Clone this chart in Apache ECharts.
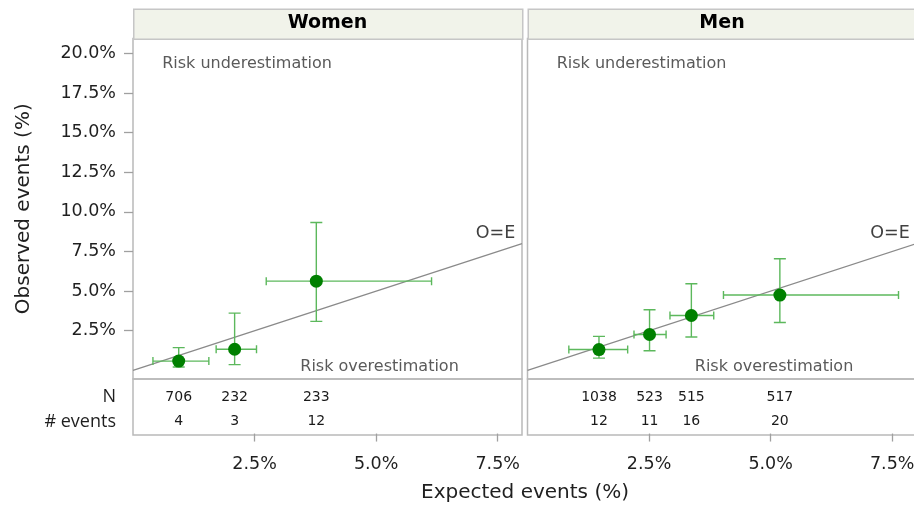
<!DOCTYPE html>
<html>
<head>
<meta charset="utf-8">
<script src="https://cdn.jsdelivr.net/npm/echarts@6/dist/echarts.min.js"></script>
<style>
  html, body { margin: 0; padding: 0; background: #ffffff; }
  #chart { width: 914px; height: 506px; }
</style>
</head>
<body>
<div id="chart"></div>
<script>
// Calibration plot: observed vs expected event rates by risk group, split by sex.
const panels = ['Women', 'Men'];

// Women (expected %, observed %, 95% CI bounds)
const womenExpected = [0.94, 2.09, 3.77];
const womenObserved = [0.58, 1.33, 5.63];
const womenExpLow   = [0.41, 1.71, 2.74];
const womenExpHigh  = [1.56, 2.54, 6.14];
const womenObsLow   = [0.21, 0.36, 3.09];
const womenObsHigh  = [1.43, 3.61, 9.33];
const womenN        = [706, 232, 233];
const womenEvents   = [4, 3, 12];

// Men
const menExpected = [1.47, 2.51, 3.37, 5.19];
const menObserved = [1.31, 2.26, 3.46, 4.75];
const menExpLow   = [0.85, 2.19, 2.93, 4.03];
const menExpHigh  = [2.06, 2.85, 3.83, 7.63];
const menObsLow   = [0.77, 1.23, 2.10, 3.02];
const menObsHigh  = [2.14, 3.82, 5.46, 7.04];
const menN        = [1038, 523, 515, 517];
const menEvents   = [12, 11, 16, 20];

// Axis ticks
const yTicks = [2.5, 5, 7.5, 10, 12.5, 15, 17.5, 20];
const xTicks = [2.5, 5, 7.5];
const rowLabels = ['N', '# events'];
const identityLine = [[0, 0], [8, 8]];

const FONT = 'DejaVu Sans';
const ROWFONT = 'Open Sans';
const BORDER = '#b9b9b9';
const ERR = '#5cb85c';
const PT = '#008000';

const chart = echarts.init(document.getElementById('chart'), null, { renderer: 'canvas' });

const plotTop = 38.5, plotH = 340.5, tableTop = 379, tableH = 56;
const lefts = [133, 527.5], W = 389;
const ROW_N = 1.5, ROW_EV = 0.5;

function pct(v) { return v.toFixed(1) + '%'; }

function errRows(ex, ob, xl, xh, yl, yh) {
  return ex.map((v, i) => [v, ob[i], xl[i], xh[i], yl[i], yh[i]]);
}

function renderErr(params, api) {
  const x = api.value(0), y = api.value(1);
  const l = api.coord([api.value(2), y]);
  const r = api.coord([api.value(3), y]);
  const b = api.coord([x, api.value(4)]);
  const t = api.coord([x, api.value(5)]);
  const st = { stroke: ERR, lineWidth: 1.4, fill: null };
  const hc = 4, vc = 6;
  const ln = (x1, y1, x2, y2) => ({ type: 'line', shape: { x1, y1, x2, y2 }, style: st });
  return {
    type: 'group',
    children: [
      ln(l[0], l[1], r[0], r[1]),
      ln(l[0], l[1] - hc, l[0], l[1] + hc),
      ln(r[0], r[1] - hc, r[0], r[1] + hc),
      ln(b[0], b[1], t[0], t[1]),
      ln(b[0] - vc, b[1], b[0] + vc, b[1]),
      ln(t[0] - vc, t[1], t[0] + vc, t[1])
    ]
  };
}

function tableText(values) {
  return function (params, api) {
    const p = api.coord([api.value(0), api.value(1)]);
    return {
      type: 'text',
      style: {
        text: String(values[params.dataIndex]),
        x: p[0], y: p[1],
        align: 'center', verticalAlign: 'middle',
        font: '14px "' + FONT + '"',
        fill: '#1a1a1a'
      }
    };
  };
}

function noteSeries(gridIdx, pos, text, align, size, color) {
  return {
    type: 'custom', xAxisIndex: gridIdx, yAxisIndex: gridIdx, silent: true, z: 5,
    data: [pos],
    renderItem: function (params, api) {
      const p = api.coord([api.value(0), api.value(1)]);
      return {
        type: 'text',
        style: { text, x: p[0], y: p[1], align, verticalAlign: 'middle',
                 font: size + 'px "' + FONT + '"', fill: color }
      };
    }
  };
}

const grids = [], xAxes = [], yAxes = [], series = [], graphics = [];

panels.forEach((name, k) => {
  grids.push({ left: lefts[k], top: plotTop, width: W, height: plotH, show: true,
               borderColor: BORDER, borderWidth: 1.5, backgroundColor: '#fff',
               containLabel: false, outerBoundsMode: 'none' });
});
panels.forEach((name, k) => {
  grids.push({ left: lefts[k], top: tableTop, width: W, height: tableH, show: true,
               borderColor: BORDER, borderWidth: 1.5,
               containLabel: false, outerBoundsMode: 'none' });
});

// Plot axes
panels.forEach((name, k) => {
  xAxes.push({ gridIndex: k, type: 'value', min: 0, max: 8,
               axisLine: { show: false }, axisTick: { show: false },
               axisLabel: { show: false }, splitLine: { show: false } });
  yAxes.push({
    gridIndex: k, type: 'value', min: -0.55, max: 20.95,
    axisLine: { show: false }, splitLine: { show: false },
    axisTick: { show: k === 0, length: 9, customValues: yTicks, lineStyle: { color: '#a0a0a0', width: 1.3 } },
    axisLabel: { show: k === 0, customValues: yTicks, formatter: pct, margin: 17,
                 fontFamily: FONT, fontSize: 17.5, color: '#1f1f1f' },
    name: k === 0 ? 'Observed events (%)' : '', nameLocation: 'middle', nameGap: 99,
    nameTextStyle: { fontFamily: FONT, fontSize: 20, color: '#1f1f1f' }
  });
});

// Table axes
panels.forEach((name, k) => {
  xAxes.push({
    gridIndex: 2 + k, type: 'value', min: 0, max: 8,
    axisLine: { show: false }, splitLine: { show: false },
    axisTick: { show: true, length: 8, customValues: xTicks, lineStyle: { color: '#a0a0a0', width: 1.3 } },
    axisLabel: { customValues: xTicks, formatter: pct, margin: 20, hideOverlap: false,
                 fontFamily: FONT, fontSize: 17.5, color: '#1f1f1f' }
  });
  yAxes.push({
    gridIndex: 2 + k, type: 'value', min: -0.06, max: 2.25,
    axisLine: { show: false }, splitLine: { show: false }, axisTick: { show: false },
    axisLabel: { show: k === 0, customValues: [ROW_EV, ROW_N], margin: 17,
                 formatter: v => (v > 1 ? rowLabels[0] : rowLabels[1]),
                 fontFamily: ROWFONT, fontSize: 18, color: '#1f1f1f' }
  });
});

const groups = [
  { ex: womenExpected, ob: womenObserved, xl: womenExpLow, xh: womenExpHigh, yl: womenObsLow, yh: womenObsHigh, n: womenN, ev: womenEvents },
  { ex: menExpected, ob: menObserved, xl: menExpLow, xh: menExpHigh, yl: menObsLow, yh: menObsHigh, n: menN, ev: menEvents }
];

groups.forEach((g, k) => {
  // identity line O = E
  series.push({ type: 'line', xAxisIndex: k, yAxisIndex: k, data: identityLine, symbol: 'none',
                clip: true, silent: true, z: 2,
                lineStyle: { color: '#8a8a8a', width: 1.3 } });
  // confidence intervals
  series.push({ type: 'custom', xAxisIndex: k, yAxisIndex: k, z: 3, silent: true, clip: true,
                data: errRows(g.ex, g.ob, g.xl, g.xh, g.yl, g.yh), renderItem: renderErr });
  // observed vs expected points
  series.push({ type: 'scatter', xAxisIndex: k, yAxisIndex: k, z: 4, symbolSize: 13,
                itemStyle: { color: PT, opacity: 1 },
                data: g.ex.map((v, i) => [v, g.ob[i]]) });
  // annotations
  series.push(noteSeries(k, [0.6, 19.33], 'Risk underestimation', 'left', 16, '#5a5a5a'));
  series.push(noteSeries(k, [6.7, 0.2], 'Risk overestimation', 'right', 16, '#5a5a5a'));
  series.push(noteSeries(k, [7.86, 8.61], 'O=E', 'right', 17.5, '#404040'));
  // counts table
  series.push({ type: 'custom', xAxisIndex: 2 + k, yAxisIndex: 2 + k, silent: true,
                data: g.ex.map(v => [v, ROW_N]), renderItem: tableText(g.n) });
  series.push({ type: 'custom', xAxisIndex: 2 + k, yAxisIndex: 2 + k, silent: true,
                data: g.ex.map(v => [v, ROW_EV]), renderItem: tableText(g.ev) });

  // panel header strip
  graphics.push({ type: 'rect', left: lefts[k], top: 8.5, z: 10,
                  shape: { width: W, height: plotTop - 8.5 },
                  style: { fill: '#f1f3ea', stroke: '#c6c6c6', lineWidth: 1.5 } });
  graphics.push({ type: 'text', x: lefts[k] + W / 2, y: (8.5 + plotTop) / 2, z: 11,
                  style: { text: panels[k], align: 'center', verticalAlign: 'middle',
                           font: 'bold 19px "' + FONT + '"', fill: '#000' } });
});

graphics.push({ type: 'text', x: 525, y: 493, z: 11,
                style: { text: 'Expected events (%)', align: 'center', verticalAlign: 'middle',
                         font: '20px "' + FONT + '"', fill: '#1f1f1f' } });

chart.setOption({
  animation: false,
  backgroundColor: '#ffffff',
  grid: grids,
  xAxis: xAxes,
  yAxis: yAxes,
  series: series,
  graphic: graphics
});
</script>
</body>
</html>
